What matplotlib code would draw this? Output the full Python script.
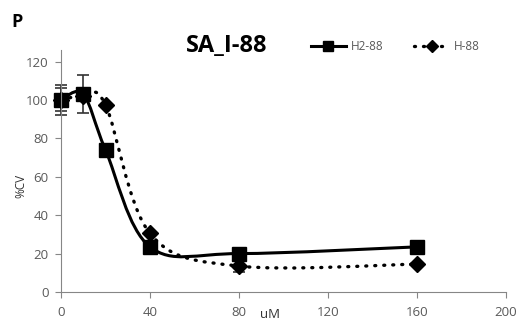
import numpy as np
import matplotlib
matplotlib.use("Agg")
import matplotlib.pyplot as plt
from matplotlib.path import Path
from matplotlib.patches import PathPatch
from matplotlib.lines import Line2D

# -----------------------------
# Data
# -----------------------------
conc = [0, 10, 20, 40, 80, 160]
h2_88 = [100, 103, 74, 23.5, 20, 23.5]
h2_88_err = [8, 10, 0, 0, 0, 0]
h_88 = [100, 102, 97.5, 30.5, 13.5, 14.5]
h_88_err = [6, 0, 0, 0, 3, 0]

x_ticks = [0, 40, 80, 120, 160, 200]
y_ticks = [0, 20, 40, 60, 80, 100, 120]

plt.rcParams["font.family"] = ["Open Sans", "DejaVu Sans"]
grey = "#595959"


def smooth_path(xs, ys):
    # Excel-style smoothed line: Catmull-Rom as cubic Bezier segments
    pts = np.column_stack([xs, ys]).astype(float)
    n = len(pts)
    verts = [pts[0]]
    codes = [Path.MOVETO]
    for i in range(n - 1):
        p0 = pts[i - 1] if i > 0 else pts[i]
        p1 = pts[i]
        p2 = pts[i + 1]
        p3 = pts[i + 2] if i + 2 < n else pts[i + 1]
        c1 = p1 + (p2 - p0) / 6.0
        c2 = p2 - (p3 - p1) / 6.0
        verts += [c1, c2, p2]
        codes += [Path.CURVE4] * 3
    return Path(verts, codes)


fig = plt.figure(figsize=(5.24, 3.23), dpi=100)
ax = fig.add_axes([61 / 524, 31 / 323, 445 / 524, 242 / 323])

ax.add_patch(PathPatch(smooth_path(conc, h2_88), fill=False, lw=2.2,
                       color="black", capstyle="round", clip_on=False))
ax.add_patch(PathPatch(smooth_path(conc, h_88), fill=False, lw=2.4,
                       color="black", linestyle=(0, (0.3, 2.4)),
                       capstyle="round", clip_on=False))

for vals, errs, mk, size in [(h2_88, h2_88_err, "s", 10),
                             (h_88, h_88_err, "D", 8)]:
    eb = ax.errorbar(conc, vals, yerr=errs, fmt=mk, ms=size, color="black",
                     ecolor="#333333", elinewidth=1.2, capsize=4,
                     capthick=1.2)
    arts = [eb.lines[0]] + list(eb.lines[1]) + list(eb.lines[2])
    for art in arts:
        art.set_clip_on(False)

ax.set_xlim(0, 200)
ax.set_ylim(0, 126)
ax.set_xticks(x_ticks)
ax.set_yticks(y_ticks)
ax.tick_params(labelsize=9.5, labelcolor=grey, color="#868686",
               length=4, width=0.8, direction="out")
ax.tick_params(axis="x", pad=6)
ax.tick_params(axis="y", pad=5)
for side in ["top", "right"]:
    ax.spines[side].set_visible(False)
for side in ["left", "bottom"]:
    ax.spines[side].set_color("#868686")
    ax.spines[side].set_linewidth(0.8)

fig.text(270 / 524, 1 - 315 / 323, "uM", fontsize=9.5, color="#333333",
         ha="center", va="center")
fig.text(21 / 524, 1 - 186 / 323, "%CV", fontsize=8.5, color="#333333",
         rotation=90, ha="center", va="center")

fig.text(227 / 524, 1 - 46 / 323, "SA_I-88", fontsize=17, fontweight="bold",
         ha="center", va="center")
fig.text(11 / 524, 1 - 22 / 323, "P", fontsize=13, fontweight="bold",
         ha="left", va="center")

handles = [
    Line2D([], [], color="black", lw=2.2, marker="s", ms=7),
    Line2D([], [], color="black", lw=2.4, linestyle=(0, (0.3, 2.4)),
           dash_capstyle="round", marker="D", ms=6),
]
fig.legend(handles, ["H2-88", "H-88"], loc="center left",
           bbox_to_anchor=(300 / 524, 1 - 47 / 323), ncol=2, frameon=False,
           fontsize=8.5, handlelength=3.0, handletextpad=0.4,
           columnspacing=2.6, labelcolor=grey)

fig.savefig("out.png", dpi=100)
